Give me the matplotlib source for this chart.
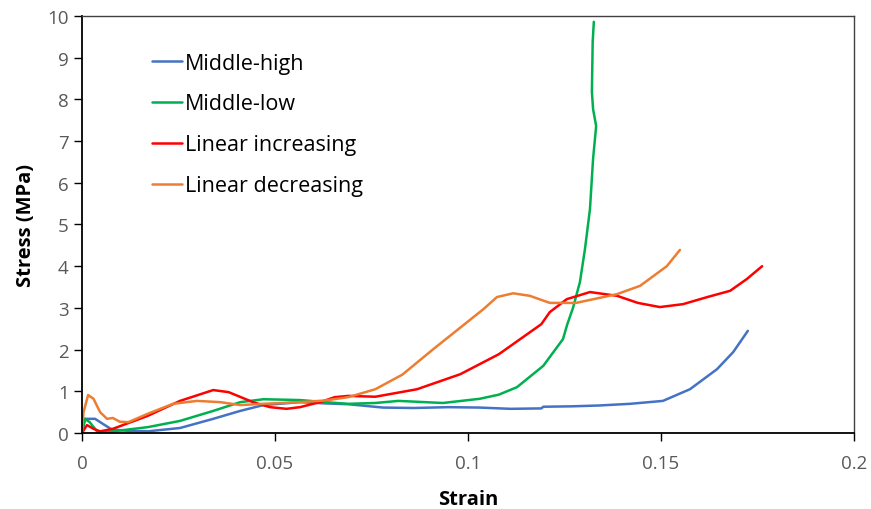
import numpy as np
import matplotlib.pyplot as plt

# Stress-strain curves
mh_strain = [0, 0.0008, 0.0034, 0.0054, 0.0078, 0.0124, 0.017, 0.0254, 0.034, 0.041, 0.047,
             0.0565, 0.063, 0.069, 0.078, 0.086, 0.095, 0.103, 0.111, 0.119, 0.1195,
             0.127, 0.134, 0.142, 0.1505, 0.1575, 0.1645, 0.1687, 0.1725]
mh_stress = [0, 0.34, 0.34, 0.22, 0.08, 0.05, 0.04, 0.12, 0.34, 0.53, 0.67,
             0.74, 0.71, 0.69, 0.61, 0.60, 0.62, 0.61, 0.58, 0.59, 0.63,
             0.64, 0.66, 0.70, 0.77, 1.05, 1.53, 1.94, 2.45]

ml_strain = [0, 0.0008, 0.002, 0.0034, 0.004, 0.008, 0.017, 0.0254, 0.034, 0.041, 0.047,
             0.0565, 0.063, 0.069, 0.076, 0.082, 0.0935, 0.103, 0.108, 0.1127, 0.1195,
             0.1246, 0.1257, 0.1272, 0.129, 0.1303, 0.1316, 0.1324, 0.1332, 0.1324,
             0.1321, 0.1323, 0.1326]
ml_stress = [0, 0.34, 0.26, 0.1, 0.03, 0.04, 0.14, 0.29, 0.53, 0.74, 0.81,
             0.79, 0.74, 0.70, 0.72, 0.77, 0.72, 0.82, 0.92, 1.1, 1.61,
             2.25, 2.6, 3.0, 3.62, 4.41, 5.37, 6.57, 7.36, 7.77,
             8.18, 9.38, 9.86]

li_strain = [0, 0.0013, 0.003, 0.0047, 0.008, 0.017, 0.0254, 0.034, 0.038, 0.0443, 0.0487,
             0.053, 0.0565, 0.062, 0.0655, 0.069, 0.076, 0.0868, 0.098, 0.108, 0.119, 0.1212,
             0.1256, 0.1316, 0.1386, 0.144, 0.1497, 0.1557, 0.162, 0.1679, 0.1722, 0.1762]
li_stress = [0, 0.19, 0.1, 0.04, 0.1, 0.41, 0.77, 1.03, 0.98, 0.74, 0.62,
             0.58, 0.62, 0.75, 0.86, 0.89, 0.87, 1.05, 1.41, 1.89, 2.61, 2.9,
             3.21, 3.38, 3.29, 3.12, 3.02, 3.09, 3.26, 3.41, 3.69, 4.0]

ld_strain = [0, 0.0004, 0.0016, 0.003, 0.0047, 0.0065, 0.008, 0.0098, 0.012, 0.017, 0.0236,
             0.0298, 0.0358, 0.041, 0.047, 0.0565, 0.063, 0.069, 0.076, 0.083, 0.091, 0.104,
             0.1075, 0.1117, 0.116, 0.1212, 0.128, 0.1386, 0.1446, 0.1515, 0.1549]
ld_stress = [0, 0.5, 0.91, 0.82, 0.5, 0.34, 0.36, 0.27, 0.26, 0.46, 0.70,
             0.77, 0.74, 0.67, 0.70, 0.74, 0.78, 0.86, 1.05, 1.4, 2.01, 2.97,
             3.26, 3.35, 3.29, 3.12, 3.12, 3.33, 3.53, 4.0, 4.39]

series = [
    ("Middle-high", mh_strain, mh_stress, "#4472C4"),
    ("Middle-low", ml_strain, ml_stress, "#00B050"),
    ("Linear increasing", li_strain, li_stress, "#FF0000"),
    ("Linear decreasing", ld_strain, ld_stress, "#ED7D31"),
]

plt.rcParams['font.family'] = ['Open Sans', 'DejaVu Sans']

fig = plt.figure(figsize=(8.71, 5.10), dpi=100)
ax = fig.add_axes([0.0941, 0.149, 0.8864, 0.8177])

for name, xs, ys, col in series:
    ax.plot(xs, ys, color=col, lw=1.8, label=name,
            solid_joinstyle='round', solid_capstyle='round')

ax.set_xlim(0, 0.2)
ax.set_ylim(0, 10)
ax.set_xticks([0, 0.05, 0.1, 0.15, 0.2])
ax.set_xticklabels(['0', '0.05', '0.1', '0.15', '0.2'])
ax.set_yticks(range(0, 11))
ax.tick_params(axis='both', direction='out', length=6, width=1, colors='black',
               labelcolor='#595959', labelsize=13.5)
ax.tick_params(axis='x', pad=9)

for side in ['left', 'bottom']:
    ax.spines[side].set_color('black')
    ax.spines[side].set_linewidth(1.3)
for side in ['top', 'right']:
    ax.spines[side].set_color('#404040')
    ax.spines[side].set_linewidth(1.0)

ax.set_xlabel('Strain', fontsize=14.5, fontweight='bold', labelpad=12)
ax.set_ylabel('Stress (MPa)', fontsize=14.5, fontweight='bold', labelpad=8)

ax.legend(loc='upper left', bbox_to_anchor=(0.0905, 0.912), frameon=False,
          fontsize=15.5, handlelength=1.4, handletextpad=0.15, labelspacing=0.92,
          borderaxespad=0, borderpad=0)

fig.savefig('out.png', dpi=100)
